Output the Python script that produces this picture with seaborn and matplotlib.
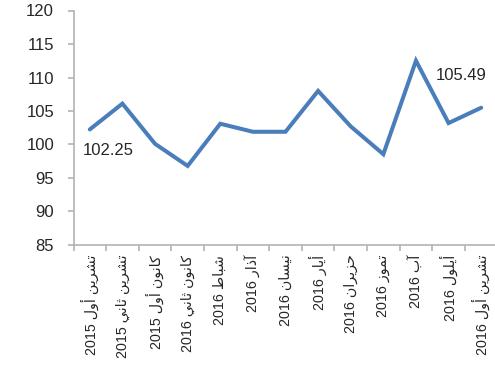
import numpy as np
import matplotlib
matplotlib.use("Agg")
import matplotlib.pyplot as plt
import seaborn as sns

# data
months = ["تشرين أول 2015", "تشرين ثاني 2015", "كانون أول 2015", "كانون ثاني 2016",
          "شباط 2016", "آذار 2016", "نيسان 2016", "أيار 2016", "حزيران 2016",
          "تموز 2016", "آب 2016", "أيلول 2016", "تشرين أول 2016"]
index_values = [102.25, 106.1, 100.1, 96.8, 103.1, 101.9, 101.9, 108.0, 102.7,
                98.55, 112.5, 103.2, 105.49]
y_ticks = [85, 90, 95, 100, 105, 110, 115, 120]

# Arabic contextual forms (iso, fin, ini, med); matplotlib has no shaping of its own
FORMS = {
    'ا': (0xFE8D, 0xFE8E, None, None), 'أ': (0xFE83, 0xFE84, None, None),
    'آ': (0xFE81, 0xFE82, None, None), 'ب': (0xFE8F, 0xFE90, 0xFE91, 0xFE92),
    'ت': (0xFE95, 0xFE96, 0xFE97, 0xFE98), 'ث': (0xFE99, 0xFE9A, 0xFE9B, 0xFE9C),
    'ح': (0xFEA1, 0xFEA2, 0xFEA3, 0xFEA4), 'ذ': (0xFEAB, 0xFEAC, None, None),
    'ر': (0xFEAD, 0xFEAE, None, None), 'ز': (0xFEAF, 0xFEB0, None, None),
    'س': (0xFEB1, 0xFEB2, 0xFEB3, 0xFEB4), 'ش': (0xFEB5, 0xFEB6, 0xFEB7, 0xFEB8),
    'ط': (0xFEC1, 0xFEC2, 0xFEC3, 0xFEC4), 'ك': (0xFED9, 0xFEDA, 0xFEDB, 0xFEDC),
    'ل': (0xFEDD, 0xFEDE, 0xFEDF, 0xFEE0), 'م': (0xFEE1, 0xFEE2, 0xFEE3, 0xFEE4),
    'ن': (0xFEE5, 0xFEE6, 0xFEE7, 0xFEE8), 'و': (0xFEED, 0xFEEE, None, None),
    'ي': (0xFEF1, 0xFEF2, 0xFEF3, 0xFEF4),
}


def shape(word):
    out = []
    for i, ch in enumerate(word):
        forms = FORMS.get(ch)
        if forms is None:
            out.append(ch)
            continue
        prev = word[i - 1] if i > 0 else ''
        nxt = word[i + 1] if i + 1 < len(word) else ''
        join_prev = prev in FORMS and FORMS[prev][2] is not None
        join_next = forms[2] is not None and nxt in FORMS
        if join_prev and join_next:
            code = forms[3]
        elif join_prev:
            code = forms[1]
        elif join_next:
            code = forms[2]
        else:
            code = forms[0]
        out.append(chr(code))
    return ''.join(out)


def visual(label):
    text, year = label.rsplit(' ', 1)
    return year + ' ' + shape(text)[::-1]


sns.set_style("white")
plt.rcParams['font.family'] = ['Liberation Sans', 'DejaVu Sans']

W, H = 495, 369
fig = plt.figure(figsize=(W / 100, H / 100), dpi=100)
ax = fig.add_axes([73.5 / W, (H - 245) / H, 424 / W, 234.5 / H])

x = np.arange(len(months))
sns.lineplot(x=x, y=index_values, ax=ax, color='#4a7ebb', linewidth=2.9,
             solid_joinstyle='miter')

ax.set_xlim(-0.5, len(months) - 0.5)
ax.set_ylim(85, 120)
ax.set_yticks(y_ticks)
ax.set_xticks(x)
ax.set_xticklabels([visual(m) for m in months], rotation=90, fontsize=10.3)
ax.set_xticks(np.arange(-0.5, len(months)), minor=True)

grey = '#b3b3b3'
for side in ['top', 'right']:
    ax.spines[side].set_visible(False)
for side in ['left', 'bottom']:
    ax.spines[side].set_color(grey)
    ax.spines[side].set_linewidth(1.2)

ax.tick_params(axis='y', labelsize=12, length=4, width=1.2, color=grey,
               direction='out', left=True, pad=10)
ax.tick_params(axis='x', which='major', length=0, pad=7)
ax.tick_params(axis='x', which='minor', length=4, width=1.2, color=grey,
               direction='out', bottom=True)

ax.annotate(f"{index_values[0]:.2f}", (x[0], index_values[0]),
            xytext=(18, -21), textcoords='offset pixels',
            ha='center', va='center', fontsize=12)
ax.annotate(f"{index_values[-1]:.2f}", (x[-1], index_values[-1]),
            xytext=(-20, 32), textcoords='offset pixels',
            ha='center', va='center', fontsize=12)

fig.savefig('out.png', dpi=100)
